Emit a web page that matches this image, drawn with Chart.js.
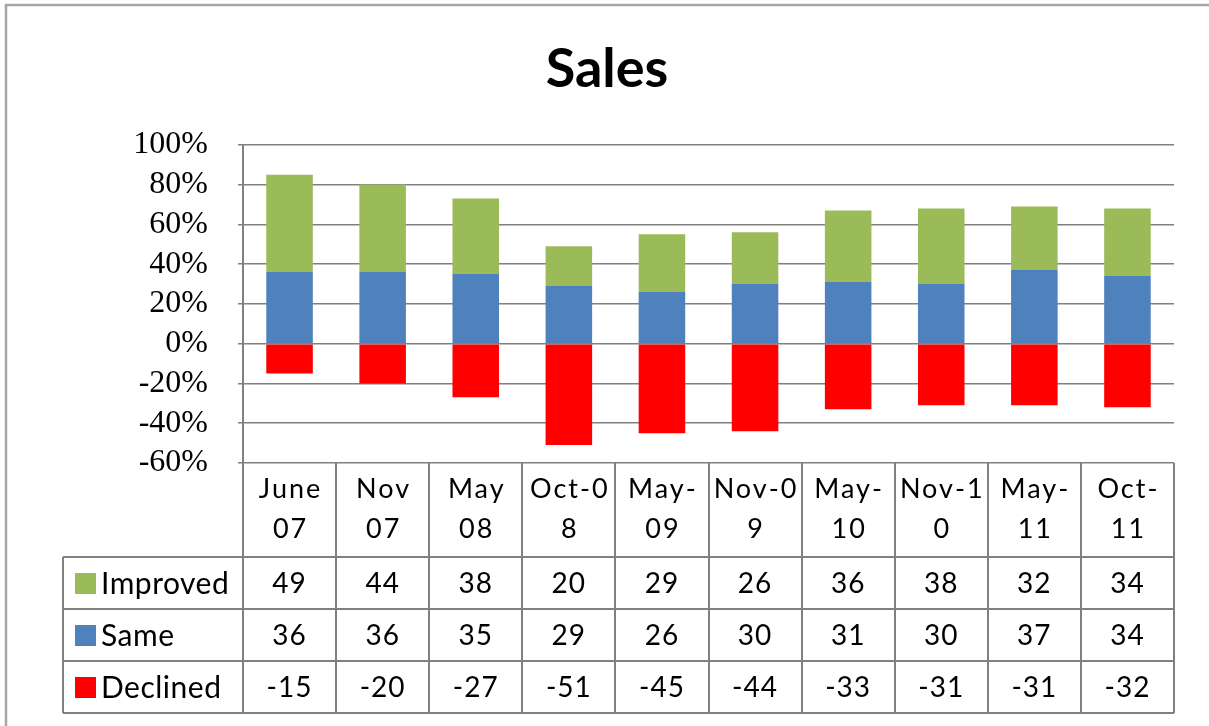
<!DOCTYPE html>
<html>
<head>
<meta charset="utf-8">
<script src="https://cdn.jsdelivr.net/npm/chart.js@4/dist/chart.umd.min.js"></script>
<style>
  html, body { margin: 0; padding: 0; background: #fff; }
  #wrap { width: 1209px; height: 726px; position: relative; }
</style>
</head>
<body>
<div id="wrap"><canvas id="sales"></canvas></div>
<script>
// data
const categories = [
  ['June', '07'], ['Nov', '07'], ['May', '08'], ['Oct-0', '8'], ['May-', '09'],
  ['Nov-0', '9'], ['May-', '10'], ['Nov-1', '0'], ['May-', '11'], ['Oct-', '11']
];
const improved = [49, 44, 38, 20, 29, 26, 36, 38, 32, 34];
const same = [36, 36, 35, 29, 26, 30, 31, 30, 37, 34];
const declined = [-15, -20, -27, -51, -45, -44, -33, -31, -31, -32];
const yTicks = [-60, -40, -20, 0, 20, 40, 60, 80, 100];

const GREEN = '#9BBB59';
const BLUE = '#4F81BD';
const RED = '#FF0000';
const LINE = '#808080';
const SANS = 'Lato, "Open Sans", sans-serif';

// rows of the data table under the plot (same order as the reference)
const tableRows = [
  { name: 'Improved', color: GREEN, values: improved },
  { name: 'Same', color: BLUE, values: same },
  { name: 'Declined', color: RED, values: declined }
];

// Draws the outer frame and the data table using the x scale positions
const dataTable = {
  id: 'dataTable',
  beforeDraw(chart) {
    const ctx = chart.ctx;
    ctx.save();
    ctx.strokeStyle = '#a6a6a6';
    ctx.lineWidth = 2.5;
    ctx.strokeRect(6, 5, 1220, 740);
    ctx.restore();
  },
  afterDraw(chart) {
    const { ctx, chartArea } = chart;
    const x = chart.scales.x;
    const right = chartArea.right;
    const top = chartArea.bottom;
    const headerBottom = top + 94;
    const rowH = 52;
    const bottom = headerBottom + rowH * tableRows.length;
    const legendLeft = 63;

    ctx.save();
    ctx.strokeStyle = LINE;
    ctx.lineWidth = 2;

    // horizontal lines
    ctx.beginPath();
    ctx.moveTo(legendLeft, headerBottom);
    ctx.lineTo(right, headerBottom);
    for (let r = 1; r <= tableRows.length; r++) {
      const y = headerBottom + r * rowH;
      ctx.moveTo(legendLeft, y);
      ctx.lineTo(right, y);
    }
    // vertical lines
    ctx.moveTo(legendLeft, headerBottom);
    ctx.lineTo(legendLeft, bottom);
    for (let i = 0; i <= categories.length; i++) {
      const xb = Math.round(x.getPixelForValue(i - 0.5));
      ctx.moveTo(xb, top);
      ctx.lineTo(xb, bottom);
    }
    ctx.stroke();

    ctx.fillStyle = '#000';
    ctx.textAlign = 'center';
    ctx.textBaseline = 'alphabetic';

    // header labels (two lines each)
    ctx.font = '27px ' + SANS;
    ctx.letterSpacing = '2px';
    categories.forEach((lines, i) => {
      const cx = x.getPixelForValue(i) + 1;
      ctx.fillText(lines[0], cx, top + 35);
      ctx.fillText(lines[1], cx, top + 75);
    });

    // data rows
    tableRows.forEach((row, r) => {
      const cy = headerBottom + r * rowH + rowH / 2;
      ctx.letterSpacing = '1px';
      ctx.font = '28px ' + SANS;
      ctx.textAlign = 'center';
      ctx.textBaseline = 'middle';
      row.values.forEach((v, i) => {
        ctx.fillText(String(v), x.getPixelForValue(i), cy + 1);
      });
      // legend key
      ctx.fillStyle = row.color;
      ctx.fillRect(75, cy - 10, 21, 21);
      ctx.fillStyle = '#000';
      ctx.textAlign = 'left';
      ctx.letterSpacing = '0.5px';
      ctx.font = '30px ' + SANS;
      ctx.fillText(row.name, 101, cy + 1);
    });
    ctx.restore();
  }
};

const ctx = document.getElementById('sales').getContext('2d');
new Chart(ctx, {
  type: 'bar',
  data: {
    labels: categories.map(c => c.join(' ')),
    datasets: [
      { label: 'Same', data: same, backgroundColor: BLUE },
      { label: 'Improved', data: improved, backgroundColor: GREEN },
      { label: 'Declined', data: declined, backgroundColor: RED }
    ]
  },
  options: {
    responsive: true,
    maintainAspectRatio: false,
    animation: false,
    layout: { padding: { left: 40, right: 35, top: 0, bottom: 263 } },
    datasets: { bar: { barPercentage: 0.5, categoryPercentage: 1.0 } },
    scales: {
      x: { stacked: true, display: false },
      y: {
        stacked: true,
        min: -60,
        max: 100,
        afterBuildTicks: scale => { scale.ticks = yTicks.map(v => ({ value: v })); },
        afterFit: scale => { scale.width = 203; },
        border: { color: LINE, width: 2 },
        grid: { color: LINE, lineWidth: 1.5, tickLength: 5 },
        ticks: {
          autoSkip: false,
          padding: 30,
          color: '#000',
          font: { family: '"Liberation Serif", serif', size: 32 },
          callback: v => v + '%'
        }
      }
    },
    plugins: {
      legend: { display: false },
      tooltip: { enabled: false },
      title: {
        display: true,
        text: 'Sales',
        color: '#000',
        font: { family: SANS, size: 54, weight: 'bold' },
        padding: { top: 37, bottom: 43 }
      }
    }
  },
  plugins: [dataTable]
});
</script>
</body>
</html>
